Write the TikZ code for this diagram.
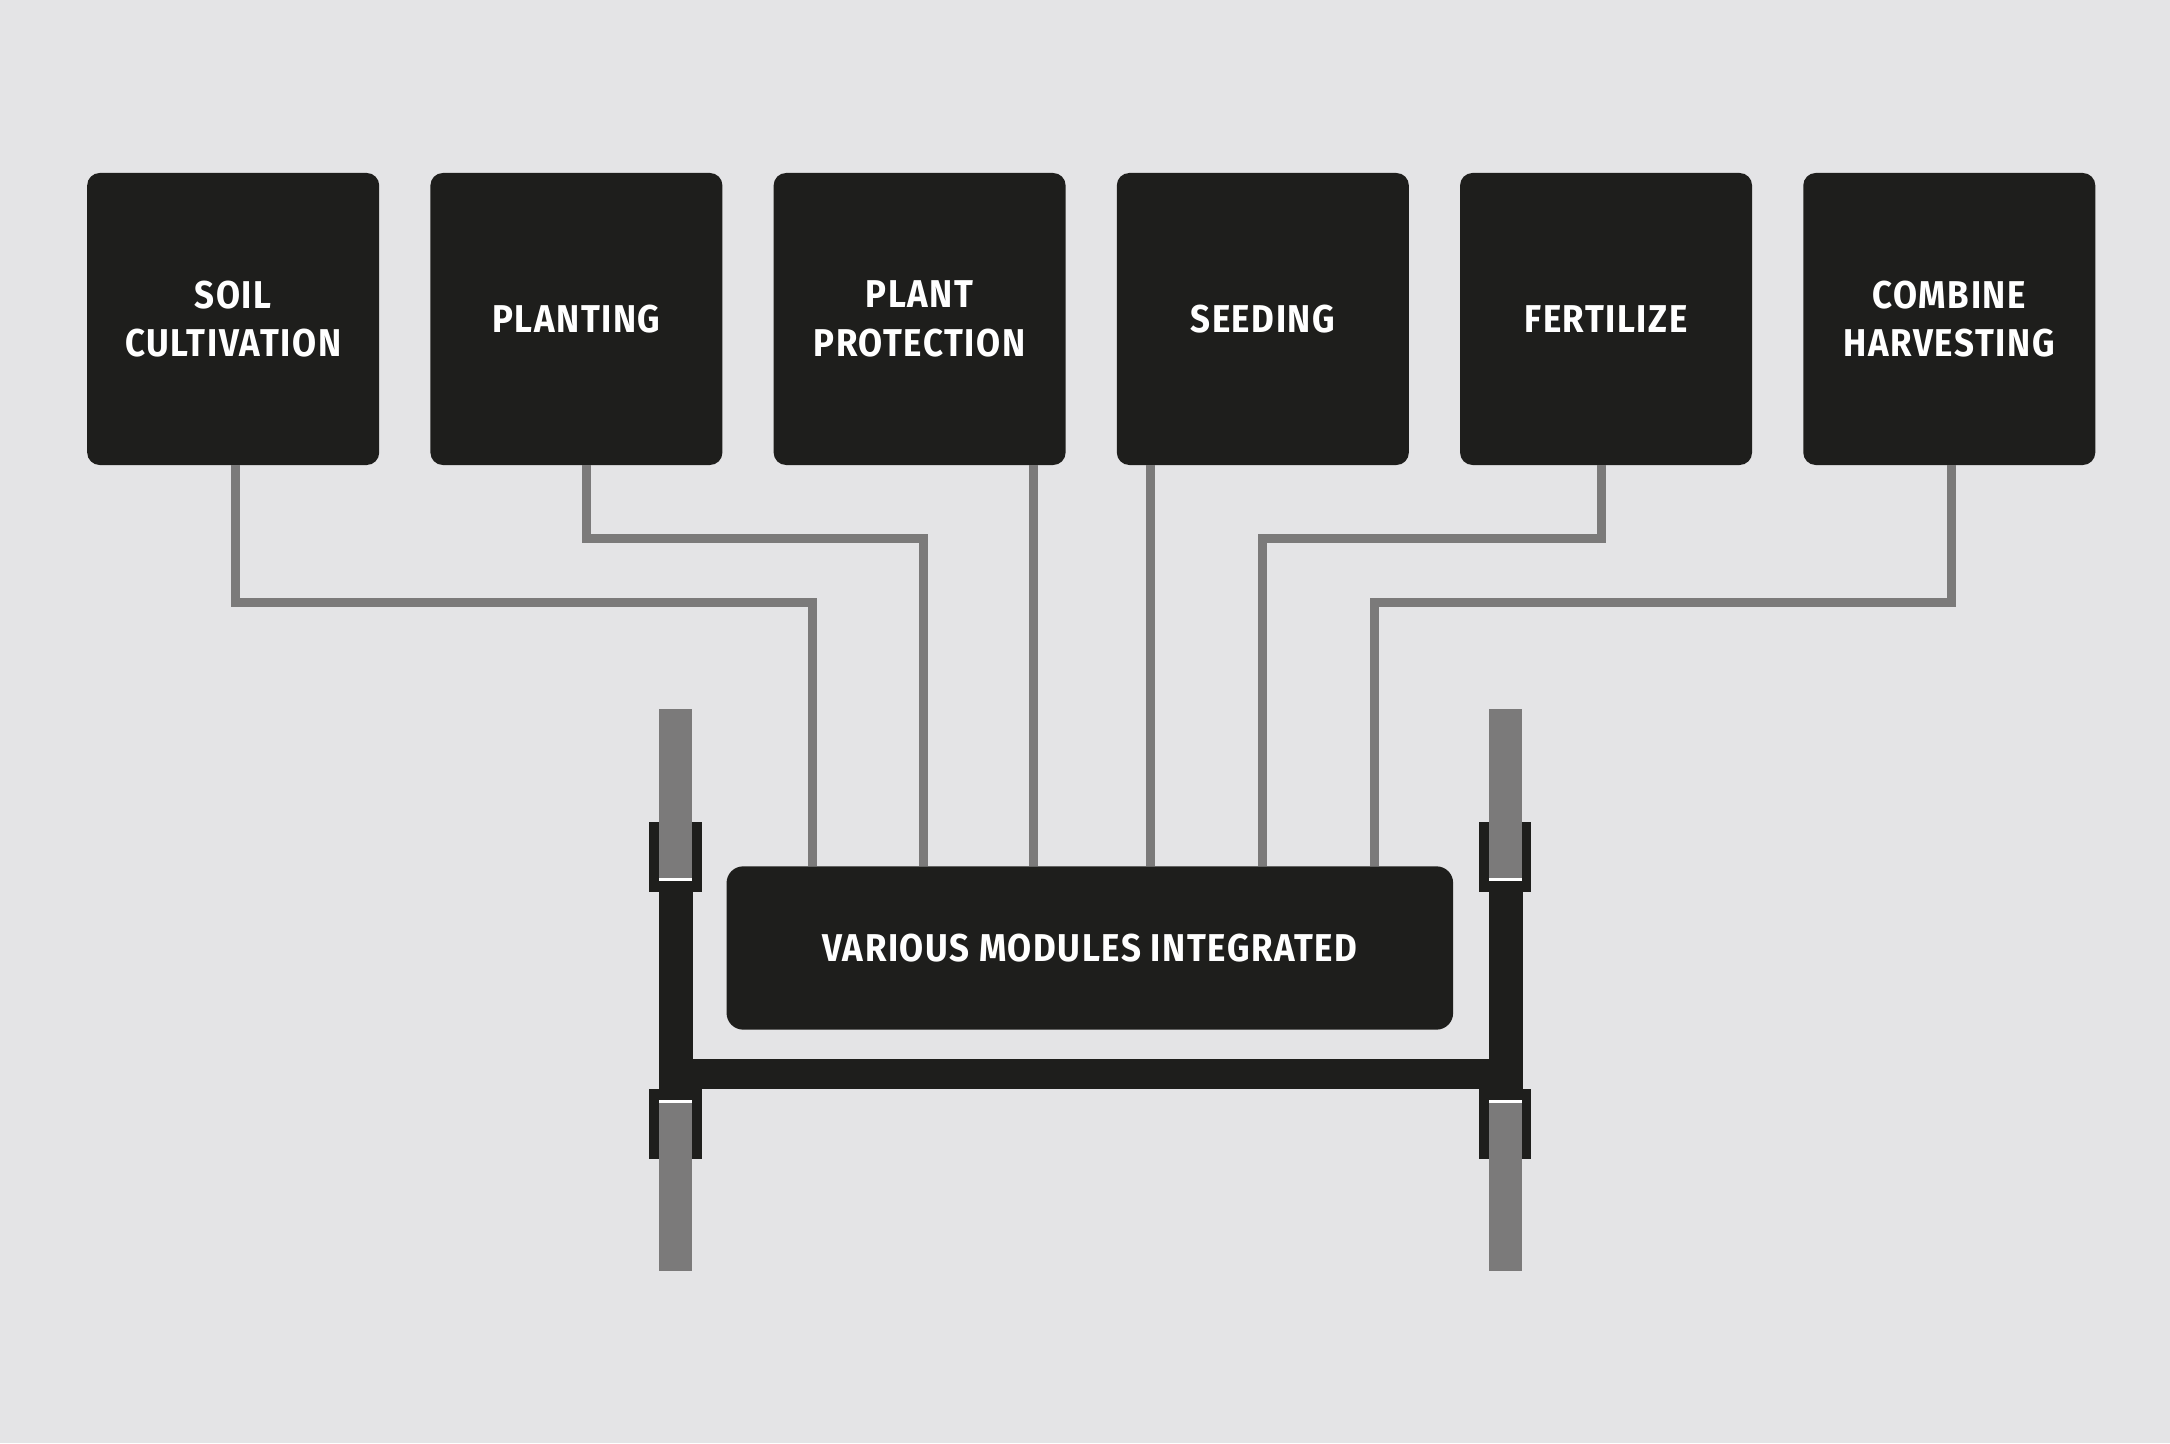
\documentclass[tikz,border=0pt]{standalone}
\usepackage{fontspec}
\setmainfont{Fira Sans}[FakeStretch=0.9,LetterSpace=4]
\definecolor{bg}{HTML}{E4E4E6}
\definecolor{blk}{HTML}{1E1E1C}
\definecolor{gry}{HTML}{7B7A7A}
\begin{document}
\begin{tikzpicture}[x=1pt,y=-1pt,
  task/.style={fill=blk,rounded corners=9pt,minimum width=211pt,minimum height=211pt,
    text=white,align=center,inner sep=0pt,font=\bfseries\fontsize{28}{35}\selectfont},
  modbox/.style={fill=blk,rounded corners=12pt,minimum width=525pt,minimum height=118pt,
    text=white,inner sep=0pt,font=\bfseries\fontsize{28}{35}\selectfont},
  conn/.style={draw=gry,line width=6.5pt,line join=miter,line cap=butt}]
\useasboundingbox (0,0) rectangle (1568,1043);
\fill[bg] (0,0) rectangle (1568,1043);
% task boxes
\node[task] (b1) at (168.5,230.5) {SOIL\\CULTIVATION};
\node[task] (b2) at (416.5,230.5) {PLANTING};
\node[task] (b3) at (664.5,230.5) {PLANT\\PROTECTION};
\node[task] (b4) at (912.5,230.5) {SEEDING};
\node[task] (b5) at (1160.5,230.5) {FERTILIZE};
\node[task] (b6) at (1408.5,230.5) {COMBINE\\HARVESTING};
% modules box
\node[modbox] (mod) at (787.5,685) {VARIOUS MODULES INTEGRATED};
% junction coordinates
\coordinate (j1) at (587,435);
\coordinate (j2) at (667,389);
\coordinate (j5) at (912,389);
\coordinate (j6) at (993,435);
% connectors
\draw[conn] ([xshift=1.5pt]b1.south) |- (j1) -- (j1 |- mod.north);
\draw[conn] ([xshift=7.5pt]b2.south) |- (j2) -- (j2 |- mod.north);
\draw[conn] ([xshift=82.5pt]b3.south) -- ([xshift=-40.5pt]mod.north);
\draw[conn] ([xshift=-81.5pt]b4.south) -- ([xshift=43.5pt]mod.north);
\draw[conn] ([xshift=-3.5pt]b5.south) |- (j5) -- (j5 |- mod.north);
\draw[conn] ([xshift=1.5pt]b6.south) |- (j6) -- (j6 |- mod.north);
% frame: horizontal beam
\fill[blk] (476.4,765) rectangle (1099.5,787.2);
% wheels and brackets
\foreach \dx in {0,599.6}{
  \begin{scope}[xshift=\dx]
    \fill[gry] (476.4,512) rectangle (500.2,918.5);
    \fill[blk] (476.4,644) rectangle (500.8,787.2);
    % upper bracket
    \fill[blk] (469.2,594.2) rectangle (476.4,644.2);
    \fill[blk] (500.2,594.2) rectangle (507,644.2);
    \fill[blk] (469.2,636.6) rectangle (507,644.2);
    \fill[white] (476.4,634.6) rectangle (500.2,636.6);
    % lower bracket
    \fill[blk] (469.2,787.2) rectangle (507,794.8);
    \fill[blk] (469.2,787.2) rectangle (476.4,837.5);
    \fill[blk] (500.2,787.2) rectangle (507,837.5);
    \fill[white] (476.4,794.8) rectangle (500.2,796.8);
  \end{scope}
}
\end{tikzpicture}
\end{document}
